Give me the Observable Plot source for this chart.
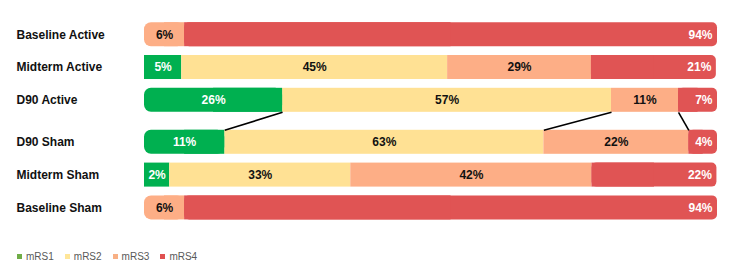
<!DOCTYPE html>
<html>
<head>
<meta charset="utf-8">
<script src="https://cdn.jsdelivr.net/npm/d3@7"></script>
<script src="https://cdn.jsdelivr.net/npm/@observablehq/plot@0.6"></script>
<style>
  html, body { margin: 0; padding: 0; background: #fff; }
  #chart { width: 738px; }
  #legend .lg-swatches { margin: 0 0 0 17px; font-family: "Liberation Sans", Arial, sans-serif; font-size: 10px; color: #595959; }
  #legend .lg-swatch { margin-right: 11px; }
  #legend .lg-swatch > svg { margin-right: 4px; }
</style>
</head>
<body>
<div id="chart"></div>
<div id="legend"></div>
<script>
// Rows, top to bottom
const rows = ["Baseline Active", "Midterm Active", "D90 Active", "D90 Sham", "Midterm Sham", "Baseline Sham"];
const categories = ["mRS1", "mRS2", "mRS3", "mRS4"];

// Printed percentages
const mRS1 = [null, 5, 26, 11, 2, null];
const mRS2 = [null, 45, 57, 63, 33, null];
const mRS3 = [6, 29, 11, 22, 42, 6];
const mRS4 = [94, 21, 7, 4, 22, 94];

// Bar lengths as drawn in the picture (% of full bar width)
const mRS1Len = [0, 6.5, 24.1, 14.0, 4.4, 0];
const mRS2Len = [0, 46.4, 57.4, 55.7, 31.6, 0];
const mRS3Len = [7.0, 25.1, 11.7, 25.3, 42.1, 7.0];
const mRS4Len = [93.0, 21.8, 6.8, 5.0, 21.8, 93.0];

const barColors = ["#00B050", "#FFE194", "#FDAE86", "#E05454"];
const legendColors = ["#70AD47", "#FFE699", "#F8B085", "#E05050"];

const values = [mRS1, mRS2, mRS3, mRS4];
const lens = [mRS1Len, mRS2Len, mRS3Len, mRS4Len];

// vertical layout: extra gap between the Active and Sham groups
const gap = 0.28;
const pos = i => i + (i >= 3 ? gap : 0);
const h = 0.366;

const segs = [];
rows.forEach((row, i) => {
  let x = 0;
  const present = categories.map((c, k) => k).filter(k => lens[k][i] > 0);
  present.forEach((k, j) => {
    const x1 = x, x2 = x + lens[k][i];
    segs.push({
      row, i, y: pos(i), cat: categories[k], k, x1, x2,
      label: values[k][i],
      first: j === 0, last: j === present.length - 1,
      roundLeft: !row.startsWith("Midterm")
    });
    x = x2;
  });
});

const leftRound = segs.filter(d => d.first && d.roundLeft);
const rightRound = segs.filter(d => d.last);
const body = segs.filter(d => !(d.first && d.roundLeft) && !d.last);

// connector lines between D90 Active and D90 Sham at the category boundaries
const ia = rows.indexOf("D90 Active"), is = rows.indexOf("D90 Sham");
const links = [];
for (let k = 0; k < 3; k++) {
  const a = d3.sum(lens.slice(0, k + 1), L => L[ia]);
  const b = d3.sum(lens.slice(0, k + 1), L => L[is]);
  links.push({xa: a, xb: b});
}

const mid = d => (d.x1 + d.x2) / 2;
const Y1 = d => d.y - h, Y2 = d => d.y + h;

const plot = Plot.plot({
  width: 738,
  height: 240,
  marginLeft: 144,
  marginRight: 21,
  marginTop: 0,
  marginBottom: 0,
  x: {domain: [0, 100], axis: null},
  y: {domain: [0, 5 + gap], range: [34.2, 207.4], axis: null},
  color: {domain: categories, range: barColors},
  style: {fontFamily: '"Liberation Sans", Arial, sans-serif', background: "white", overflow: "visible"},
  marks: [
    Plot.rect(body, {x1: "x1", x2: "x2", y1: Y1, y2: Y2, fill: "cat"}),
    Plot.rect(leftRound, {x1: "x1", x2: "x2", y1: Y1, y2: Y2, fill: "cat", rx: 7}),
    Plot.rect(leftRound, {x1: mid, x2: "x2", y1: Y1, y2: Y2, fill: "cat"}),
    Plot.rect(rightRound, {x1: "x1", x2: "x2", y1: Y1, y2: Y2, fill: "cat", rx: 5}),
    Plot.rect(rightRound, {x1: "x1", x2: mid, y1: Y1, y2: Y2, fill: "cat"}),
    Plot.link(links, {x1: "xa", y1: () => pos(ia) + h, x2: "xb", y2: () => pos(is) - h, stroke: "#000", strokeWidth: 1.6}),
    Plot.text(segs.filter(d => !d.last && d.k === 0), {x: mid, y: "y", text: d => d.label + "%", fill: "white", fontWeight: "bold", fontSize: 12}),
    Plot.text(segs.filter(d => !d.last && d.k !== 0), {x: mid, y: "y", text: d => d.label + "%", fill: "#111", fontWeight: "bold", fontSize: 12}),
    Plot.text(rightRound, {x: "x2", y: "y", text: d => d.label + "%", fill: "white", fontWeight: "bold", fontSize: 12, textAnchor: "end", dx: -5}),
    Plot.text(rows, {y: (d, i) => pos(i), text: d => d, frameAnchor: "left", textAnchor: "start", dx: -128, fill: "#111", fontWeight: "bold", fontSize: 12})
  ]
});
document.getElementById("chart").appendChild(plot);

const legend = Plot.legend({
  color: {domain: categories, range: legendColors, type: "ordinal"},
  legend: "swatches",
  swatchSize: 5,
  className: "lg"
});
document.getElementById("legend").appendChild(legend);
</script>
</body>
</html>
